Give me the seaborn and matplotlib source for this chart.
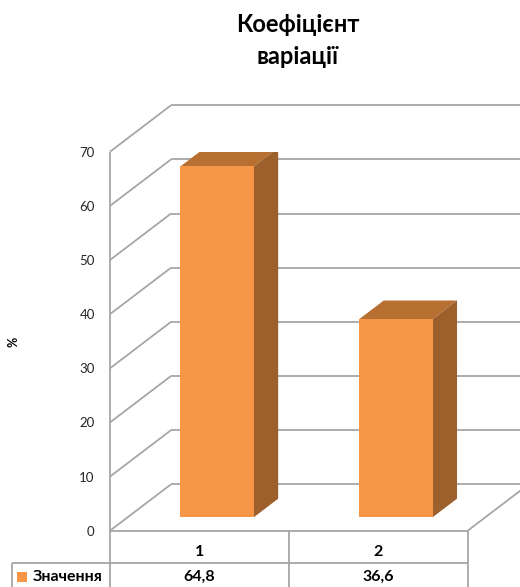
import matplotlib
matplotlib.use("Agg")
import matplotlib.pyplot as plt
import pandas as pd
import seaborn as sns
from matplotlib.patches import Polygon

# Chart data
categories = ["1", "2"]
values = [64.8, 36.6]
series_name = "Значення"
value_labels = ["64,8", "36,6"]
y_ticks = [0, 10, 20, 30, 40, 50, 60, 70]
title_lines = ["Коефіцієнт", "варіації"]
y_label = "%"

sns.set_theme(style="white")
plt.rcParams["font.family"] = ["Lato", "DejaVu Sans"]

FRONT = "#F79646"
TOP = "#B76F32"
SIDE = "#9D5F2B"
GRID = "#A6A6A6"
TEXT = "#000000"

W, H = 520, 587
fig = plt.figure(figsize=(W / 100, H / 100), dpi=100)
fig.patch.set_facecolor("white")

# front plane of the 3-D box, in pixels
left_px, right_px, top_px, bottom_px = 110, 467.7, 151.7, 530.7
ax = fig.add_axes([left_px / W, 1 - bottom_px / H,
                   (right_px - left_px) / W, (bottom_px - top_px) / H])

df = pd.DataFrame({"cat": categories, "val": values})
sns.barplot(data=df, x="cat", y="val", color=FRONT, saturation=1,
            width=0.41, edgecolor="none", linewidth=0, ax=ax, zorder=6)

ax.set_xlim(-0.5, len(categories) - 0.5)
ax.set_ylim(y_ticks[0], y_ticks[-1])

# pixel -> data scale factors
px_x = (right_px - left_px) / len(categories)
px_y = (bottom_px - top_px) / (y_ticks[-1] - y_ticks[0])

# depth of the box (perspective offset of the back wall)
DX, DY = 61 / px_x, 46.4 / px_y
x0, x1 = -0.5, len(categories) - 0.5
x_edge = x0 + (W - left_px) / px_x + 0.2

lw = 1.3
line_kw = dict(color=GRID, lw=lw, clip_on=False, zorder=1, solid_capstyle="butt")

# walls: side wall diagonals and back wall gridlines
for v in y_ticks:
    ax.plot([x0, x0 + DX], [v, v + DY], **line_kw)
    ax.plot([x0 + DX, x_edge], [v + DY, v + DY], **line_kw)

# floor right edge
ax.plot([x1, x1 + DX], [0, DY], **line_kw)

# bars: push front faces into the box and add top/side faces
front_frac, depth_frac = 0.29, 0.40
fdx, fdy = front_frac * DX, front_frac * DY
bdx, bdy = depth_frac * DX, depth_frac * DY
for p in list(ax.patches):
    p.set_x(p.get_x() + fdx)
    p.set_y(p.get_y() + fdy)
    bx0 = p.get_x()
    bx1 = bx0 + p.get_width()
    by0 = p.get_y()
    by1 = by0 + p.get_height()
    top = Polygon([(bx0, by1), (bx1, by1), (bx1 + bdx, by1 + bdy), (bx0 + bdx, by1 + bdy)],
                  closed=True, facecolor=TOP, edgecolor="none", zorder=5)
    side = Polygon([(bx1, by0), (bx1, by1), (bx1 + bdx, by1 + bdy), (bx1 + bdx, by0 + bdy)],
                   closed=True, facecolor=SIDE, edgecolor="none", zorder=5)
    ax.add_patch(top)
    ax.add_patch(side)

# data table under the plot
row1 = -(563.3 - bottom_px) / px_y
y_bot = -(H + 5 - bottom_px) / px_y
x_leg = x0 - (left_px - 12) / px_x
tbl_kw = dict(color=GRID, lw=lw, clip_on=False, zorder=3, solid_capstyle="butt")
ax.plot([x0, x0], [y_bot, y_ticks[-1]], **tbl_kw)
ax.plot([x0, x1], [0, 0], **tbl_kw)
for i in range(len(categories)):
    ax.plot([i + 0.5, i + 0.5], [y_bot, 0], **tbl_kw)
ax.plot([x_leg, x1], [row1, row1], **tbl_kw)
ax.plot([x_leg, x_leg], [y_bot, row1], **tbl_kw)

hdr_y = -(551.5 - bottom_px) / px_y
val_y = -(576.7 - bottom_px) / px_y
tfs = 11.5
for i, (c, lab) in enumerate(zip(categories, value_labels)):
    ax.text(i, hdr_y, c, ha="center", va="center", fontsize=tfs,
            fontweight="bold", color=TEXT, clip_on=False)
    ax.text(i, val_y, lab, ha="center", va="center", fontsize=tfs,
            fontweight="bold", color=TEXT, clip_on=False)

ax.scatter([x0 - 88 / px_x], [val_y], marker="s", s=50, color=FRONT,
           clip_on=False, zorder=4, linewidths=0)
ax.text(x0 - 77 / px_x, val_y, series_name, ha="left", va="center",
        fontsize=tfs, fontweight="bold", color=TEXT, clip_on=False)

# axes cosmetics
ax.set_yticks(y_ticks)
ax.set_yticklabels([str(t) for t in y_ticks])
ax.tick_params(axis="y", length=0, pad=11, labelsize=9.5, labelcolor="#262626")
ax.set_xticks([])
ax.set_xlabel("")
ax.set_ylabel("")
for s in ax.spines.values():
    s.set_visible(False)
ax.set_facecolor("none")

fig.text(14 / W, 1 - 342 / H, y_label, rotation=90, ha="center", va="center",
         fontsize=9, fontweight="bold", color=TEXT)
for line, base in zip(title_lines, [31.5, 63.5]):
    fig.text(297.5 / W, 1 - base / H, line, ha="center", va="baseline",
             fontsize=17, fontweight="bold", color=TEXT)

fig.savefig("out.png", dpi=100, facecolor="white")
